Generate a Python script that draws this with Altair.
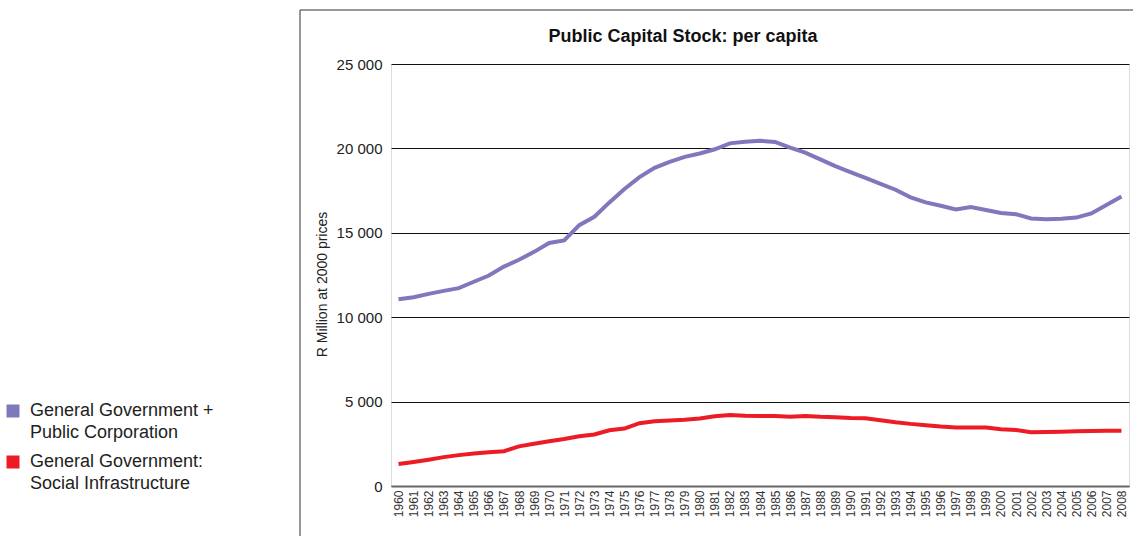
import altair as alt
import pandas as pd

years = [str(y) for y in range(1960, 2009)]

total_public = [
    11060, 11180, 11380, 11560, 11720, 12100, 12470, 13000, 13400, 13870,
    14400, 14550, 15450, 15950, 16800, 17600, 18300, 18850, 19200, 19500,
    19700, 19950, 20300, 20400, 20450, 20380, 20050, 19750, 19350, 18950,
    18600, 18250, 17900, 17550, 17100, 16800, 16600, 16380, 16520, 16350,
    16170, 16100, 15850, 15800, 15830, 15900, 16150, 16650, 17150,
]

social_infra = [
    1300, 1420, 1560, 1710, 1830, 1930, 2000, 2060, 2350, 2500,
    2650, 2780, 2950, 3050, 3300, 3400, 3720, 3830, 3880, 3930,
    4000, 4130, 4200, 4160, 4150, 4150, 4100, 4150, 4100, 4080,
    4030, 4010, 3900, 3780, 3680, 3600, 3520, 3460, 3460, 3460,
    3360, 3320, 3180, 3200, 3220, 3240, 3260, 3270, 3280,
]

series_names = [
    "General Government + Public Corporation",
    "General Government: Social Infrastructure",
]
series_colors = ["#8078bd", "#ed1c24"]
y_ticks = [0, 5000, 10000, 15000, 20000, 25000]

rows = []
for name, vals in zip(series_names, [total_public, social_infra]):
    for yr, v in zip(years, vals):
        rows.append({"year": yr, "value": v, "series": name})
df = pd.DataFrame(rows)

FONT = "Liberation Sans"

legend = alt.Legend(
    title=None,
    orient="none",
    legendX=-387,
    legendY=338,
    symbolType="square",
    symbolSize=169,
    symbolStrokeWidth=0,
    labelFontSize=18,
    labelFont=FONT,
    labelColor="#222",
    labelLimit=400,
    labelOffset=8,
    rowPadding=11,
    labelExpr="split(replace(replace(datum.label, '+ ', '+|'), ': ', ':|'), '|')",
)

color = alt.Color(
    "series:N",
    scale=alt.Scale(domain=series_names, range=series_colors),
    legend=legend,
)

x = alt.X(
    "year:O",
    sort=years,
    title=None,
    axis=alt.Axis(
        labelAngle=270,
        labelFontSize=12,
        labelFont=FONT,
        labelColor="#333",
        labelPadding=4,
        ticks=False,
        domain=True,
        domainColor="#666",
        domainWidth=2,
        grid=False,
    ),
)

y = alt.Y(
    "value:Q",
    scale=alt.Scale(domain=[0, 25000], nice=False),
    title="R Million at 2000 prices",
    axis=alt.Axis(
        values=y_ticks,
        labelExpr="replace(format(datum.value, ',d'), ',', ' ')",
        labelFontSize=15,
        labelFont=FONT,
        labelColor="#222",
        labelPadding=9,
        ticks=False,
        domain=False,
        grid=True,
        gridColor={"condition": {"test": "datum.value === 0", "value": "#666"}, "value": "#111"},
        gridWidth=1,
        gridOpacity=1,
        titleFontSize=14,
        titleFont=FONT,
        titleFontWeight="normal",
        titleColor="#222",
        titlePadding=7,
        titleY=220,
    ),
)

legend_layer = (
    alt.Chart(df)
    .transform_filter("false")
    .mark_square(filled=True, opacity=1)
    .encode(x=x, y=y, color=color)
)

lines = (
    alt.Chart(df)
    .mark_line(strokeWidth=4)
    .encode(x=x, y=y, color=color)
)

frame_data = alt.Data(values=[{}])
frame_left = alt.Chart(frame_data).mark_rule(color="#333", strokeWidth=1).encode(
    x=alt.value(-91), y=alt.value(-54), y2=alt.value(480)
)
frame_top = alt.Chart(frame_data).mark_rule(color="#333", strokeWidth=1).encode(
    x=alt.value(-91), x2=alt.value(760), y=alt.value(-54)
)

chart = (
    alt.layer(legend_layer, lines, frame_left, frame_top)
    .properties(
        width=738,
        height=422,
        autosize=alt.AutoSizeParams(type="none"),
        padding={"left": 391, "top": 64, "right": 4, "bottom": 50},
        background="white",
        title=alt.TitleParams(
            text="Public Capital Stock: per capita",
            font=FONT,
            fontSize=18,
            fontWeight="bold",
            color="#111",
            anchor="middle",
            dx=-77,
            dy=52,
            offset=16,
        ),
    )
    .configure_view(stroke=None)
    .configure(style={"guide-label": {"lineHeight": 22}})
)

chart.save("out.html", embed_options={"renderer": "svg", "actions": False})
